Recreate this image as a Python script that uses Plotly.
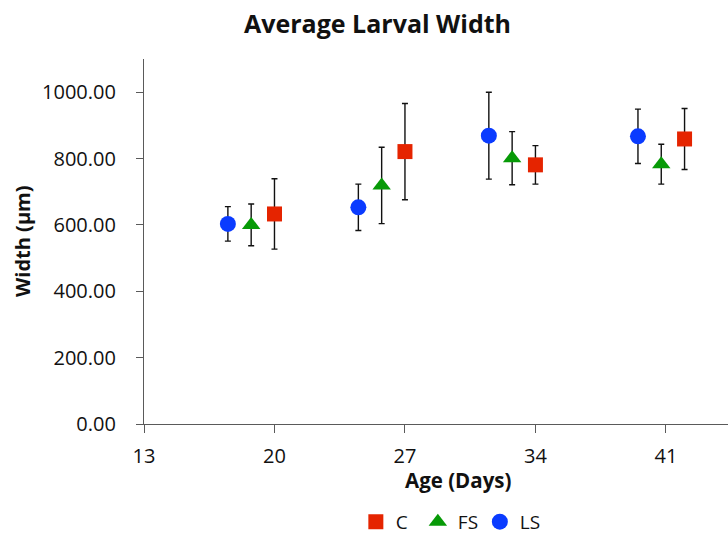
import plotly.graph_objects as go

# Average larval width (µm) by age (days) for three treatments
series_names = ["C", "FS", "LS"]

c_age = [20, 27, 34, 42]
c_width = [633, 821, 781, 859]
c_err = [106, 145, 58, 92]

fs_age = [18.75, 25.75, 32.75, 40.75]
fs_width = [600, 719, 801, 783]
fs_err = [63, 115, 80, 60]

ls_age = [17.5, 24.5, 31.5, 39.5]
ls_width = [603, 653, 869, 867]
ls_err = [52, 70, 131, 82]

x_ticks = [13, 20, 27, 34, 41]
y_ticks = [0, 200, 400, 600, 800, 1000]

FONT = "Open Sans"
AXIS_COLOR = "#5a5a5a"

styles = {
    "C": dict(symbol="square", color="#E52400", size=15),
    "FS": dict(symbol="triangle-up", color="#079A07", size=16),
    "LS": dict(symbol="circle", color="#0A3BFF", size=16),
}
data = {
    "C": (c_age, c_width, c_err),
    "FS": (fs_age, fs_width, fs_err),
    "LS": (ls_age, ls_width, ls_err),
}

fig = go.Figure()
for name in series_names:
    xs, ys, es = data[name]
    st = styles[name]
    fig.add_trace(go.Scatter(
        x=xs, y=ys, name=name, mode="markers",
        marker=dict(symbol=st["symbol"], color=st["color"], size=st["size"],
                    line=dict(width=0)),
        error_y=dict(type="data", array=es, visible=True, color="#111111",
                     thickness=1.4, width=3),
    ))

fig.update_layout(
    width=728, height=535,
    margin=dict(l=144, r=0, t=59, b=111, autoexpand=False),
    paper_bgcolor="white", plot_bgcolor="white",
    font=dict(family=FONT, size=20, color="#111111"),
    showlegend=True,
    legend=dict(orientation="h", x=0.522, xanchor="center", y=-0.268,
                yanchor="middle", font=dict(size=19), itemwidth=30,
                entrywidth=17, entrywidthmode="pixels",
                tracegroupgap=0, traceorder="normal"),
    annotations=[
        dict(text="<b>Average Larval Width</b>", xref="paper", yref="paper",
             x=(377 - 144) / 584, y=(424 - 23) / 365, xanchor="center",
             yanchor="middle", showarrow=False,
             font=dict(family=FONT, size=25, color="#111111")),
        dict(text="<b>Age (Days)</b>", xref="paper", yref="paper",
             x=(458 - 144) / 584, y=(424 - 480) / 365, xanchor="center",
             yanchor="middle", showarrow=False,
             font=dict(family=FONT, size=20.5, color="#111111")),
        dict(text="<b>Width (µm)</b>", xref="paper", yref="paper",
             x=(23 - 144) / 584, y=(424 - 241) / 365, xanchor="center",
             yanchor="middle", showarrow=False, textangle=-90,
             font=dict(family=FONT, size=20, color="#111111")),
    ],
)

fig.update_xaxes(
    range=[13, 13 + 584 / 18.64], tickvals=x_ticks, ticktext=[str(v) for v in x_ticks],
    showgrid=False, zeroline=False, showline=True, linecolor=AXIS_COLOR,
    linewidth=1.2, ticks="outside", ticklen=8, tickcolor=AXIS_COLOR,
    tickwidth=1.2, ticklabelstandoff=6, tickfont=dict(size=20),
)
fig.update_yaxes(
    range=[0, 1100], tickvals=y_ticks, tickformat=".2f",
    showgrid=False, zeroline=False, showline=True, linecolor=AXIS_COLOR,
    linewidth=1.2, ticks="outside", ticklen=7, tickcolor=AXIS_COLOR,
    tickwidth=1.2, ticklabelstandoff=16, tickfont=dict(size=20),
)

fig.write_html("out.html")
